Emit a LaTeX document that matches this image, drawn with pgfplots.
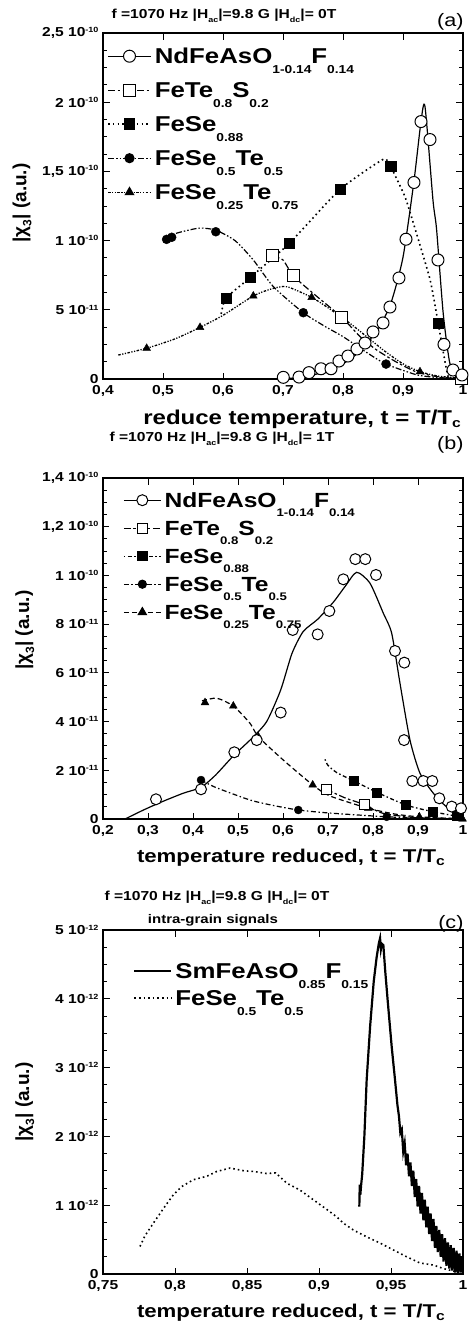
\documentclass[border=0pt]{standalone}
\usepackage{pgfplots}
\pgfplotsset{compat=1.18}
\usepackage{fontspec}
\setmainfont{Liberation Sans}
\newcommand{\hs}[1]{\scalebox{1.2}[1]{#1}}
\newcommand{\lsub}[1]{\raisebox{-10pt}{\fontsize{11.5}{12}\selectfont #1}}
\newcommand{\bsub}[1]{\raisebox{-9pt}{\fontsize{11}{12}\selectfont #1}}
\newcommand{\tsub}[1]{\raisebox{-4.5pt}{\fontsize{7.5}{8}\selectfont #1}}
\newcommand{\tsup}[1]{\raisebox{4.5pt}{\fontsize{7.5}{8}\selectfont #1}}
\newcommand{\xsub}[1]{\raisebox{-2.5pt}{\fontsize{13}{13}\selectfont #1}}
\newcommand{\ylab}{|χ\raisebox{-5pt}{\fontsize{12}{12}\selectfont 3}| (a.u.)}
\tikzset{
 lsA/.style={line width=1.2pt, solid},
 lsB/.style={line width=1.2pt, dash pattern=on 7pt off 2.5pt on 2.5pt off 2.5pt},
 lsCa/.style={line width=1.6pt, dash pattern=on 1.6pt off 3.2pt},
 lsDa/.style={line width=1.2pt, dash pattern=on 6pt off 2pt on 1.5pt off 2pt on 1.5pt off 2pt},
 lsEa/.style={line width=1.3pt, dash pattern=on 2.5pt off 1.5pt on 1.2pt off 1.5pt on 1.2pt off 1.5pt},
 lsCb/.style={line width=1.3pt, dash pattern=on 1.5pt off 2.5pt on 4pt off 2.5pt},
 lsDb/.style={line width=1.2pt, dash pattern=on 5pt off 2.5pt on 1.5pt off 2.5pt},
 lsEb/.style={line width=1.2pt, dash pattern=on 5pt off 3pt},
 lsDot/.style={line width=1.6pt, dash pattern=on 1.6pt off 3pt},
}
\pgfplotsset{
 mO/.style={mark=*, mark size=#1, mark options={solid, fill=white, draw=black, line width=1pt}},
 mS/.style={mark=square*, mark size=#1, mark options={solid, fill=white, draw=black, line width=1pt}},
 mSf/.style={mark=square*, mark size=#1, mark options={solid, fill=black, draw=black}},
 mCf/.style={mark=*, mark size=#1, mark options={solid, fill=black, draw=black}},
 mT/.style={mark=triangle*, mark size=#1, mark options={solid, fill=black, draw=black}},
 panel/.style={scale only axis, width=360pt, anchor=north west,
   tick align=inside, axis line style={line width=1.2pt},
   tick style={black, line width=1pt}, major tick length=6.5pt, minor tick length=4pt,
   minor y tick num=3, clip=false, ymin=0, xmax=1,
   tick label style={font=\fontsize{13}{14}\selectfont\bfseries},
   yticklabel style={xshift=-1pt},
   xticklabel style={yshift=-3pt},
   legend cell align=left,
   legend style={draw=none, fill=none, font=\fontsize{21.5}{24}\selectfont\bfseries, inner sep=0pt, column sep=3pt},
   ylabel={\ylab},
 },
}
\begin{document}
\begin{tikzpicture}
\useasboundingbox (0pt,0pt) rectangle (469pt,-1325pt);

%% ---------------- (a)
\begin{axis}[panel, at={(103pt,-33pt)}, height=346pt,
 xmin=0.4, ymax=2.5,
 xtick={0.4,0.5,0.6,0.7,0.8,0.9,1},
 xticklabels={{\hs{0,4}},{\hs{0,5}},{\hs{0,6}},{\hs{0,7}},{\hs{0,8}},{\hs{0,9}},{\hs{1}}},
 ytick={0,0.5,1,1.5,2,2.5},
 yticklabels={{\hs{0}},{\hs{5 10\tsup{-11}}},{\hs{1 10\tsup{-10}}},{\hs{1,5 10\tsup{-10}}},{\hs{2 10\tsup{-10}}},{\hs{2,5 10\tsup{-10}}}},
 xlabel={\hs{reduce temperature, t = T/T\xsub{c}}},
 xlabel style={at={(axis description cs:0.553,-0.118)}, anchor=center, font=\fontsize{20}{22}\selectfont\bfseries},
 ylabel style={at={(axis description cs:-0.225,0.509)}, anchor=center, rotate=0, font=\fontsize{19}{21}\selectfont\bfseries},
 legend style={at={(rel axis cs:0,1)}, anchor=north west, xshift=4pt, yshift=-14pt, row sep=7pt,
   nodes={inner sep=0pt, text height=16pt, text depth=11pt}},
 legend image code/.code={\draw[mark repeat=2,mark phase=2,#1] plot coordinates {(0pt,4.5pt) (21.5pt,4.5pt) (43pt,4.5pt)};},
]
\addlegendimage{lsA, mO=6pt}
\addlegendentry{\hs{NdFeAsO\lsub{1-0.14}F\lsub{0.14}}}
\addlegendimage{lsB, mS=6pt}
\addlegendentry{\hs{FeTe\lsub{0.8}S\lsub{0.2}}}
\addlegendimage{lsCa, mSf=5pt}
\addlegendentry{\hs{FeSe\lsub{0.88}}}
\addlegendimage{lsDa, mCf=4.5pt}
\addlegendentry{\hs{FeSe\lsub{0.5}Te\lsub{0.5}}}
\addlegendimage{lsEa, mT=4.5pt}
\addlegendentry{\hs{FeSe\lsub{0.25}Te\lsub{0.75}}}
% lines
\addplot[lsEa, smooth, tension=0.4, forget plot] coordinates {(0.4255,0.173) (0.4728,0.222) (0.52,0.29) (0.5617,0.373) (0.60,0.46) (0.6505,0.60) (0.68,0.65) (0.706,0.667) (0.7478,0.59) (0.78,0.5) (0.8117,0.402) (0.8395,0.306) (0.87,0.2) (0.9,0.11) (0.9283,0.053) (0.96,0.02) (1.0,0.005)};
\addplot[lsDa, smooth, tension=0.4, forget plot] coordinates {(0.50,1.0) (0.52,1.05) (0.56,1.09) (0.588,1.075) (0.62,1.0) (0.6505,0.86) (0.684,0.667) (0.7338,0.479) (0.77,0.38) (0.8,0.306) (0.84,0.19) (0.8717,0.108) (0.923,0.03) (0.96,0.01) (1.0,0.0)};
\addplot[lsCa, smooth, tension=0.3, forget plot] coordinates {(0.597,0.47) (0.6045,0.583) (0.645,0.732) (0.7105,0.98) (0.795,1.37) (0.867,1.587) (0.8795,1.534) (0.903,1.32) (0.917,1.13) (0.945,0.72) (0.9588,0.40) (0.975,0.02) (0.99,0.0)};
\addplot[lsB, smooth, tension=0.4, forget plot] coordinates {(0.6828,0.889) (0.70,0.86) (0.717,0.746) (0.75,0.62) (0.7978,0.446) (0.83,0.3) (0.856,0.21) (0.89,0.12) (0.923,0.05) (0.96,0.015) (1.0,0.0)};
\addplot[lsA, smooth, tension=0.4, forget plot] coordinates {(0.68,0) (0.70,0.003) (0.72,0.008) (0.74,0.02) (0.76,0.04) (0.78,0.07) (0.80,0.11) (0.82,0.17) (0.84,0.26) (0.86,0.37) (0.88,0.55) (0.9,0.88) (0.918,1.42) (0.93,1.86) (0.9367,1.967) (0.95,1.29) (0.956,1.08) (0.967,0.475) (0.978,0.115) (0.99,0.03) (1.0,0.01)};
% marks
\addplot[only marks, mT=4.5pt, forget plot] coordinates {(0.4728,0.222) (0.5617,0.373) (0.6505,0.60) (0.7478,0.59) (0.9283,0.053)};
\addplot[only marks, mCf=4.5pt, forget plot] coordinates {(0.506,1.009) (0.5145,1.024) (0.588,1.064) (0.7338,0.479) (0.8717,0.108)};
\addplot[only marks, mSf=5pt, forget plot] coordinates {(0.6045,0.583) (0.645,0.732) (0.7105,0.98) (0.795,1.37) (0.8795,1.534) (0.9588,0.40)};
\addplot[only marks, mS=6pt, forget plot] coordinates {(0.6828,0.889) (0.717,0.746) (0.7978,0.446) (0.998,0.005)};
\addplot[only marks, mO=6pt, forget plot] coordinates {(0.7005,0.012) (0.7267,0.014) (0.7433,0.046) (0.7633,0.074) (0.78,0.074) (0.7933,0.130) (0.8083,0.166) (0.8233,0.217) (0.8367,0.260) (0.85,0.340) (0.8667,0.405) (0.8783,0.520) (0.8933,0.730) (0.905,1.010) (0.9183,1.420) (0.93,1.860) (0.945,1.730) (0.9583,0.860) (0.9683,0.250) (0.9833,0.065) (0.9983,0.029)};
\end{axis}

%% ---------------- (b)
\begin{axis}[panel, at={(103pt,-478pt)}, height=341pt,
 xmin=0.2, ymax=14,
 xtick={0.2,0.3,0.4,0.5,0.6,0.7,0.8,0.9,1},
 xticklabels={{\hs{0,2}},{\hs{0,3}},{\hs{0,4}},{\hs{0,5}},{\hs{0,6}},{\hs{0,7}},{\hs{0,8}},{\hs{0,9}},{\hs{1}}},
 ytick={0,2,4,6,8,10,12,14},
 yticklabels={{\hs{0}},{\hs{2 10\tsup{-11}}},{\hs{4 10\tsup{-11}}},{\hs{6 10\tsup{-11}}},{\hs{8 10\tsup{-11}}},{\hs{1 10\tsup{-10}}},{\hs{1,2 10\tsup{-10}}},{\hs{1,4 10\tsup{-10}}}},
 xlabel={\hs{temperature reduced, t = T/T\xsub{c}}},
 xlabel style={at={(axis description cs:0.522,-0.114)}, anchor=center, font=\fontsize{18.5}{21}\selectfont\bfseries},
 ylabel style={at={(axis description cs:-0.217,0.554)}, anchor=center, rotate=0, font=\fontsize{19}{21}\selectfont\bfseries},
 legend style={at={(rel axis cs:0,1)}, anchor=north west, xshift=20pt, yshift=-14pt, row sep=3pt,
   font=\fontsize{20.5}{23}\selectfont\bfseries, nodes={inner sep=0pt, text height=15pt, text depth=10pt}},
 legend image code/.code={\draw[mark repeat=2,mark phase=2,#1] plot coordinates {(0pt,4.5pt) (18.5pt,4.5pt) (37pt,4.5pt)};},
]
\addlegendimage{lsA, mO=5.5pt}
\addlegendentry{\hs{NdFeAsO\bsub{1-0.14}F\bsub{0.14}}}
\addlegendimage{lsB, mS=5pt}
\addlegendentry{\hs{FeTe\bsub{0.8}S\bsub{0.2}}}
\addlegendimage{lsCb, mSf=4.5pt}
\addlegendentry{\hs{FeSe\bsub{0.88}}}
\addlegendimage{lsDb, mCf=4pt}
\addlegendentry{\hs{FeSe\bsub{0.5}Te\bsub{0.5}}}
\addlegendimage{lsEb, mT=4.5pt}
\addlegendentry{\hs{FeSe\bsub{0.25}Te\bsub{0.75}}}
% lines
\addplot[lsEb, smooth, tension=0.4, forget plot] coordinates {(0.42,4.85) (0.4526,4.96) (0.4896,4.64) (0.5267,3.93) (0.5451,3.38) (0.6007,2.42) (0.666,1.40) (0.7037,0.95) (0.7896,0.44) (0.85,0.2) (0.903,0.09) (1.0,0.0)};
\addplot[lsDb, smooth, tension=0.4, forget plot] coordinates {(0.4178,1.6) (0.45,1.3) (0.5267,0.78) (0.58,0.55) (0.634,0.37) (0.7,0.25) (0.8304,0.09) (0.9,0.05) (1.0,0.02)};
\addplot[lsCb, smooth, tension=0.4, forget plot] coordinates {(0.6933,2.45) (0.70,2.2) (0.72,1.9) (0.7578,1.56) (0.8082,1.10) (0.8733,0.575) (0.9326,0.30) (0.986,0.12) (1.0,0.1)};
\addplot[lsB, smooth, tension=0.4, forget plot] coordinates {(0.6956,1.22) (0.74,0.85) (0.78,0.6) (0.823,0.23) (0.9,0.05) (1.0,0.0)};
\addplot[lsA, smooth, tension=0.4, forget plot] coordinates {(0.249,0) (0.29,0.37) (0.33,0.7) (0.3785,1.06) (0.4178,1.3) (0.45,1.8) (0.49,2.6) (0.53,3.3) (0.5637,4.0) (0.5949,5.3) (0.62,6.8) (0.645,7.7) (0.677,8.2) (0.7118,8.9) (0.74,9.6) (0.7637,10.13) (0.7933,9.68) (0.8229,8.45) (0.8415,7.63) (0.86,5.57) (0.8822,3.24) (0.9044,1.88) (0.934,1.06) (0.9638,0.5) (1.0,0.23)};
% marks
\addplot[only marks, mT=4.5pt, forget plot] coordinates {(0.4267,4.78) (0.4896,4.64) (0.5451,3.38) (0.666,1.40) (0.7896,0.44) (0.903,0.09) (0.999,0.0)};
\addplot[only marks, mCf=4pt, forget plot] coordinates {(0.4178,1.6) (0.634,0.37) (0.8304,0.09)};
\addplot[only marks, mSf=4.5pt, forget plot] coordinates {(0.7578,1.56) (0.8082,1.10) (0.8733,0.575) (0.9326,0.30) (0.986,0.12)};
\addplot[only marks, mS=5pt, forget plot] coordinates {(0.6956,1.22) (0.78,0.6)};
\addplot[only marks, mO=5.5pt, forget plot] coordinates {(0.3178,0.81) (0.4178,1.22) (0.4918,2.74) (0.5416,3.24) (0.5949,4.37) (0.6216,7.76) (0.677,7.58) (0.703,8.54) (0.734,9.84) (0.7607,10.67) (0.7829,10.67) (0.8067,10.02) (0.8489,6.9) (0.8696,6.42) (0.869,3.24) (0.8874,1.56) (0.9118,1.56) (0.9318,1.56) (0.9474,0.85) (0.9749,0.51) (0.9956,0.44)};
\end{axis}

%% ---------------- (c)
\begin{axis}[panel, at={(103pt,-930pt)}, height=344pt,
 xmin=0.75, ymax=5,
 xtick={0.75,0.8,0.85,0.9,0.95,1},
 xticklabels={{\hs{0,75}},{\hs{0,8}},{\hs{0,85}},{\hs{0,9}},{\hs{0,95}},{\hs{1}}},
 ytick={0,1,2,3,4,5},
 yticklabels={{\hs{0}},{\hs{1 10\tsup{-12}}},{\hs{2 10\tsup{-12}}},{\hs{3 10\tsup{-12}}},{\hs{4 10\tsup{-12}}},{\hs{5 10\tsup{-12}}}},
 xlabel={\hs{temperature reduced, t = T/T\xsub{c}}},
 xlabel style={at={(axis description cs:0.522,-0.113)}, anchor=center, font=\fontsize{18.5}{21}\selectfont\bfseries},
 ylabel style={at={(axis description cs:-0.217,0.5)}, anchor=center, rotate=0, font=\fontsize{19}{21}\selectfont\bfseries},
 legend style={at={(rel axis cs:0,1)}, anchor=north west, xshift=30pt, yshift=-32pt, row sep=0pt,
   nodes={inner sep=0pt, text height=16pt, text depth=11pt}},
 legend image code/.code={\draw[#1] (0pt,4.5pt) -- (37pt,4.5pt);},
]
\addplot[lsA, line width=2.2pt] coordinates {(0.9280,0.98) (0.9283,1.30) (0.9287,1.15) (0.9292,1.28) (0.9300,1.45) (0.9315,2.00) (0.9331,2.82) (0.9355,3.60) (0.9380,4.25) (0.9400,4.60) (0.9415,4.80) (0.9424,4.88) (0.9430,4.72) (0.9437,4.80) (0.9447,4.78) (0.9460,4.40) (0.9480,3.90) (0.9505,3.30) (0.9528,2.82) (0.9545,2.45)
(0.9555,2.30) (0.9565,2.05) (0.9575,2.10) (0.9585,1.78) (0.9595,1.90) (0.9605,1.58) (0.9615,1.75) (0.9625,1.42) (0.9635,1.62) (0.9645,1.28) (0.9655,1.50) (0.9665,1.12) (0.9675,1.38) (0.9685,0.98) (0.9695,1.28) (0.9705,0.88) (0.9715,1.18) (0.9725,0.78) (0.9735,1.08) (0.9745,0.68) (0.9755,0.98) (0.9765,0.58) (0.9775,0.88) (0.9785,0.48) (0.9795,0.80) (0.9805,0.38) (0.9815,0.70) (0.9825,0.32) (0.9835,0.64) (0.9845,0.25) (0.9855,0.58) (0.9865,0.18) (0.9875,0.52) (0.9885,0.12) (0.9895,0.46) (0.9905,0.08) (0.9915,0.42) (0.9925,0.05) (0.9935,0.38) (0.9945,0.02) (0.9955,0.34) (0.9965,0.00) (0.9975,0.30) (0.9985,0.02) (0.9995,0.25)};
\addlegendentry{\hs{SmFeAsO\lsub{0.85}F\lsub{0.15}}}
\addplot[lsDot] coordinates {(0.7757,0.40) (0.7790,0.55) (0.785,0.74) (0.7919,0.95) (0.7988,1.15) (0.8046,1.27) (0.8127,1.37) (0.822,1.42) (0.829,1.49) (0.8382,1.54) (0.848,1.50) (0.855,1.49) (0.8637,1.46) (0.870,1.47) (0.8776,1.32) (0.8868,1.22) (0.896,1.08) (0.9053,0.94) (0.9123,0.83) (0.9169,0.74) (0.9238,0.64) (0.9331,0.54) (0.9424,0.45) (0.9516,0.35) (0.9609,0.25) (0.9701,0.16) (0.9794,0.13) (0.9863,0.08) (0.9956,0.03)};
\addlegendentry{\hs{FeSe\lsub{0.5}Te\lsub{0.5}}}
\end{axis}

%% titles
\node[anchor=base, font=\fontsize{13}{14}\selectfont\bfseries] at (224pt,-18pt) {\hs{f =1070 Hz |H\tsub{ac}|=9.8 G |H\tsub{dc}|= 0T}};
\node[anchor=base east, font=\fontsize{18}{20}\selectfont] at (467pt,-27pt) {\hs{(a)}};
\node[anchor=base, font=\fontsize{13}{14}\selectfont\bfseries] at (222pt,-441pt) {\hs{f =1070 Hz |H\tsub{ac}|=9.8 G |H\tsub{dc}|= 1T}};
\node[anchor=base east, font=\fontsize{18}{20}\selectfont] at (467pt,-449pt) {\hs{(b)}};
\node[anchor=base, font=\fontsize{13}{14}\selectfont\bfseries] at (217pt,-900pt) {\hs{f =1070 Hz |H\tsub{ac}|=9.8 G |H\tsub{dc}|= 0T}};
\node[anchor=base, font=\fontsize{12.5}{14}\selectfont\bfseries] at (213pt,-923pt) {\hs{intra-grain signals}};
\node[anchor=base east, font=\fontsize{18}{20}\selectfont] at (467pt,-928pt) {\hs{(c)}};
\end{tikzpicture}
\end{document}
